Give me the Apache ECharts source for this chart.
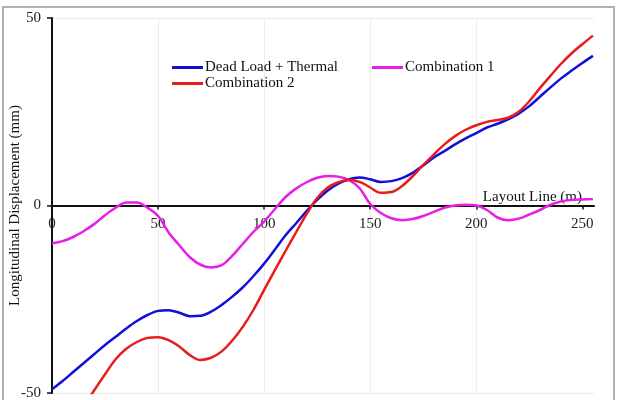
<!DOCTYPE html>
<html>
<head>
<meta charset="utf-8">
<script src="https://cdn.jsdelivr.net/npm/echarts@6/dist/echarts.min.js"></script>
<style>
html,body{margin:0;padding:0;background:#fff;}
#chart{width:618px;height:400px;}
</style>
</head>
<body>
<div id="chart"></div>
<script>
// ---- data ----
const xTicks = [0, 50, 100, 150, 200, 250];
const yTicks = [-50, 0, 50];

const xDead = [0,5,10,15,20,25,30,35,40,45,50,55,60,65,70,75,80,85,90,95,100,105,110,115,120,125,130,135,140,145,150,155,160,165,170,175,180,185,190,195,200,205,210,215,220,225,230,235,240,245,250,255];
const yDead = [-49,-46.8,-44.4,-42,-39.6,-37.2,-35,-32.8,-30.8,-29.2,-28.1,-27.9,-28.6,-29.5,-29.4,-28.3,-26.5,-24.3,-21.8,-18.8,-15.5,-11.8,-8,-4.8,-1.5,1.5,4,5.8,7,7.5,7,6.3,6.5,7.3,8.7,10.7,12.8,14.5,16.3,17.9,19.3,20.8,21.8,23,24.5,26.5,29,31.5,33.9,36,38,39.9];

const xComb1 = [0,5,10,15,20,25,30,35,40,45,50,55,60,65,70,75,80,85,90,95,100,105,110,115,120,125,130,135,140,145,150,155,160,165,170,175,180,185,190,195,200,205,210,215,220,225,230,235,240,245,250,255];
const yComb1 = [-10.1,-9.5,-8.4,-6.8,-4.9,-2.6,-0.6,0.8,0.8,-0.6,-2.8,-7.2,-10.6,-13.8,-15.8,-16.5,-15.9,-13.4,-10.2,-7,-4.3,-1,2.2,4.5,6.2,7.4,7.9,7.7,6.8,4.6,0.4,-2,-3.4,-3.9,-3.6,-2.8,-1.7,-0.6,0,0.2,0,-1.2,-3.2,-3.9,-3.5,-2.4,-1.2,0.2,1.1,1.5,1.6,1.7];

const xComb2 = [15,20,25,30,35,40,45,50,55,60,65,70,75,80,85,90,95,100,105,110,115,120,125,130,135,140,145,150,155,160,165,170,175,180,185,190,195,200,205,210,215,220,225,230,235,240,245,250,255];
const yComb2 = [-53.5,-49.2,-45,-41,-38.2,-36.4,-35.3,-35.1,-35.9,-37.6,-39.9,-41.2,-40.6,-38.9,-36,-32.3,-27.8,-22.5,-17.3,-12.2,-7.2,-2.3,2,4.8,6.2,6.8,6.3,4.8,3.4,3.6,5.2,7.8,10.8,13.6,16.3,18.5,20.2,21.4,22.3,22.8,23.4,25,27.8,31.3,34.6,37.8,40.6,43,45.3];

const seriesNames = ['Dead Load + Thermal', 'Combination 1', 'Combination 2'];

function pairs(xs, ys) { return xs.map((x, i) => [x, ys[i]]); }

const FONT = '"Liberation Serif", "Times New Roman", serif';
const chart = echarts.init(document.getElementById('chart'), null, {renderer: 'canvas'});

const lineSeries = (name, data, color) => ({
  name, type: 'line', data, smooth: 0.35, showSymbol: false, symbol: 'none',
  lineStyle: {color, width: 2.5}, itemStyle: {color}, clip: true, z: 3
});

const GRID_TOP = 18, GRID_BOTTOM = 7, PLOT_H = 400 - GRID_TOP - GRID_BOTTOM;

chart.setOption({
  animation: false,
  textStyle: {fontFamily: FONT},
  graphic: [{
    type: 'rect', shape: {x: 3, y: 7, width: 611, height: 400},
    style: {fill: 'none', stroke: '#b0b0b0', lineWidth: 2}, silent: true, z: -1
  }],
  grid: {left: 52, right: 24, top: GRID_TOP, bottom: GRID_BOTTOM, containLabel: false, outerBoundsMode: 'none'},
  legend: [{
    data: [seriesNames[0], seriesNames[1]],
    left: 167, top: 55, orient: 'horizontal',
    icon: 'rect', itemWidth: 31, itemHeight: 3, itemGap: 34,
    textStyle: {fontFamily: FONT, fontSize: 15, color: '#111', padding: [0,0,0,-3]}
  }, {
    data: [seriesNames[2]],
    left: 167, top: 71, orient: 'horizontal',
    icon: 'rect', itemWidth: 31, itemHeight: 3,
    textStyle: {fontFamily: FONT, fontSize: 15, color: '#111', padding: [0,0,0,-3]}
  }],
  xAxis: {
    type: 'value', min: xTicks[0], max: 255.5, interval: 50,
    position: 'bottom', offset: -PLOT_H / 2,
    name: 'Layout Line (m)', nameLocation: 'end', nameGap: -12, nameMoveOverlap: false,
    nameTextStyle: {fontFamily: FONT, fontSize: 15, color: '#111', align: 'right', verticalAlign: 'bottom', padding: [0,0,1,0]},
    axisLine: {onZero: false, lineStyle: {color: '#111', width: 2}},
    axisTick: {show: true, length: 4, customValues: xTicks, lineStyle: {color: '#111', width: 1.5}},
    axisLabel: {fontFamily: FONT, fontSize: 15, color: '#222', margin: 11, customValues: xTicks,
      formatter: v => xTicks.includes(v) ? String(v) : ''},
    splitLine: {show: true, showMaxLine: false, lineStyle: {color: '#ececec', width: 1}}
  },
  yAxis: {
    type: 'value', min: yTicks[0], max: yTicks[2], interval: 50,
    name: 'Longitudinal Displacement (mm)', nameLocation: 'middle', nameGap: 29, nameMoveOverlap: false,
    nameTextStyle: {fontFamily: FONT, fontSize: 15, color: '#111'},
    axisLine: {show: true, onZero: false, lineStyle: {color: '#111', width: 2}},
    axisTick: {show: true, length: 5, lineStyle: {color: '#111', width: 1.5}},
    axisLabel: {fontFamily: FONT, fontSize: 15, color: '#222', margin: 11},
    splitLine: {show: true, lineStyle: {color: '#ececec', width: 1}}
  },
  series: [
    lineSeries(seriesNames[0], pairs(xDead, yDead), '#1010d8'),
    lineSeries(seriesNames[1], pairs(xComb1, yComb1), '#e61ee6'),
    lineSeries(seriesNames[2], pairs(xComb2, yComb2), '#e81c1c')
  ]
});
</script>
</body>
</html>
